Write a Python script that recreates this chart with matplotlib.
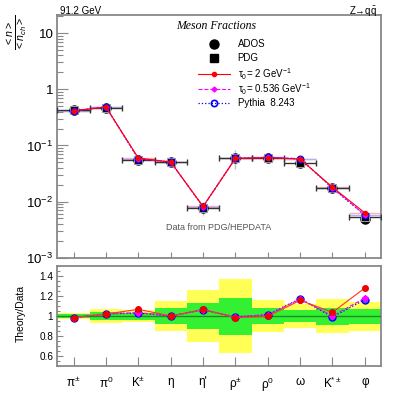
import matplotlib
matplotlib.use('Agg')
import matplotlib.pyplot as plt
import numpy as np
from matplotlib.ticker import FixedLocator, MultipleLocator, NullFormatter, LogLocator

plt.rcParams['font.family'] = ['Liberation Sans', 'DejaVu Sans']
plt.rcParams['mathtext.fontset'] = 'custom'
plt.rcParams['mathtext.rm'] = 'Liberation Sans'
plt.rcParams['mathtext.it'] = 'Liberation Sans:italic'
plt.rcParams['mathtext.bf'] = 'Liberation Sans:bold'

# ---------------- data ----------------
categories = ['π$^{\\pm}$', 'π$^{0}$', 'K$^{\\pm}$', 'η', "η'", 'ρ$^{\\pm}$',
              'ρ$^{0}$', 'ω', 'K$^{*\\pm}$', 'φ']
pdg = [0.422, 0.472, 0.0558, 0.0506, 0.0077, 0.0596, 0.0606, 0.0494, 0.0174, 0.0054]
ados = [0.422, 0.472, 0.0558, 0.0506, 0.0077, 0.0596, 0.0606, 0.0494, 0.0174, 0.0049]
tau2_top = [0.415, 0.480, 0.0595, 0.0506, 0.0082, 0.0585, 0.0604, 0.0572, 0.0180, 0.0063]
tau0536_top = [0.416, 0.481, 0.0577, 0.0506, 0.0081, 0.0590, 0.0612, 0.0580, 0.0175, 0.0058]
pythia_top = [0.416, 0.481, 0.0573, 0.0506, 0.0081, 0.0590, 0.0612, 0.0578, 0.0173, 0.0057]

tau2_ratio = [0.984, 1.020, 1.067, 1.000, 1.066, 0.984, 0.997, 1.157, 1.037, 1.280]
tau0536_ratio = [0.985, 1.020, 1.035, 1.000, 1.062, 0.990, 1.012, 1.170, 1.000, 1.180]
pythia_ratio = [0.985, 1.020, 1.030, 1.000, 1.062, 0.990, 1.014, 1.173, 0.990, 1.164]

green_half = [0.020, 0.037, 0.035, 0.080, 0.133, 0.185, 0.080, 0.060, 0.085, 0.075]
yellow_half = [0.030, 0.070, 0.060, 0.150, 0.260, 0.370, 0.160, 0.120, 0.170, 0.145]

top_ticklabels = ['10$^{-3}$', '10$^{-2}$', '10$^{-1}$', '1', '10']
top_tickvals = [1e-3, 1e-2, 1e-1, 1, 10]
ratio_tickvals = [0.6, 0.8, 1.0, 1.2, 1.4]
ratio_ticklabels = ['0.6', '0.8', '1', '1.2', '1.4']

# ---------------- figure ----------------
x = np.arange(len(categories)) + 0.5
pdg_a = np.array(pdg)
yel = np.array(yellow_half)
grn = np.array(green_half)

RED = '#ff0000'
MAG = '#ff00ff'
BLUE = '#0000ff'
FRAME = '#888888'

fig = plt.figure(figsize=(3.99, 3.99), dpi=100)
ax = fig.add_axes([0.1441, 0.3541, 0.8108, 0.6083])
ax2 = fig.add_axes([0.1441, 0.0827, 0.8108, 0.2506])

for a in (ax, ax2):
    for s in a.spines.values():
        s.set_color(FRAME)
        s.set_linewidth(1.3)
    a.set_xlim(0, len(categories))

# ---- top panel ----
ax.set_yscale('log')
ax.set_ylim(1e-3, 21)

# faint model horizontal bars
ax.errorbar(x, tau2_top, xerr=0.5, fmt='none', ecolor='#ffb0b0', elinewidth=1.0, zorder=1)
ax.errorbar(x, pythia_top, xerr=0.5, fmt='none', ecolor='#b0b0ff', elinewidth=1.0, ls=':', zorder=1)

# data error bars
ax.errorbar(x, pdg, yerr=pdg_a * yel, fmt='none', ecolor='#c0c0c0', elinewidth=1.0, zorder=2)
ax.errorbar(x, pdg, xerr=0.5, fmt='none', ecolor='#333333', elinewidth=1.0,
            capsize=2.2, capthick=1.0, zorder=3)
ax.plot(x, ados, 'o', color='black', ms=6.5, ls='none', zorder=4)
ax.plot(x, pdg, 's', mfc='black', mec='#9a9a9a', mew=0.8, ms=6.2, ls='none', zorder=5)

ax.plot(x, pythia_top, ls=':', color=BLUE, lw=0.9, marker='o', mfc='none', mec=BLUE,
        mew=1.2, ms=4.5, zorder=6)
ax.plot(x, tau0536_top, ls='--', color=MAG, lw=0.8, marker='D', ms=2.5, mfc=MAG, mec=MAG, zorder=7)
ax.plot(x, tau2_top, ls='-', color=RED, lw=0.8, marker='o', ms=3, mfc=RED, mec=RED, zorder=8)

ax.yaxis.set_major_locator(FixedLocator(top_tickvals))
ax.set_yticklabels(top_ticklabels)
ax.yaxis.set_minor_locator(LogLocator(base=10, subs=np.arange(2, 10)))
ax.yaxis.set_minor_formatter(NullFormatter())
ax.set_xticks(x)
ax.set_xticklabels([])
ax.tick_params(axis='y', which='major', direction='in', length=8, width=0.8, color=FRAME,
               labelsize=9.5, pad=3, left=True, right=False)
ax.tick_params(axis='y', which='minor', direction='in', length=4.3, width=0.8, color=FRAME,
               left=True, right=False)
ax.tick_params(axis='x', which='major', direction='in', length=4.3, width=0.8, color=FRAME,
               top=False, bottom=True)
ax.tick_params(axis='x', which='minor', bottom=False, top=False)

# texts
ax.text(0.49, 0.955, 'Meson Fractions', transform=ax.transAxes, ha='center', va='center',
        fontfamily='Liberation Serif', fontstyle='italic', fontsize=8.5)
ax.text(0.335, 0.125, 'Data from PDG/HEPDATA', transform=ax.transAxes, ha='left', va='center',
        fontsize=6.5, color='#555555')
fig.text(60 / 399, 1 - 14 / 399, '91.2 GeV', ha='left', va='baseline', fontsize=7)
fig.text(377 / 399, 1 - 14 / 399, 'Z→q$\\bar{\\mathrm{q}}$', ha='right',
         va='baseline', fontsize=7)
fig.text(17 / 399, 1 - 14 / 399, r'$\frac{<n>}{<n_{ch}>}$', rotation=90, ha='center',
         va='top', fontsize=11)

# legend (manual)
def yfrac(ypx):
    return 1 - (ypx - 15) / 242.7

def xfrac(xpx):
    return (xpx - 57.5) / 323.5

leg = [
    ('ADOS', dict(marker='o', color='black', ms=6.5, ls='none')),
    ('PDG', dict(marker='s', color='black', ms=6.2, ls='none')),
    ('τ$_{0}$= 2 GeV$^{-1}$', dict(marker='o', color=RED, ms=3, ls='-', lw=0.8)),
    ('τ$_{0}$= 0.536 GeV$^{-1}$', dict(marker='D', color=MAG, ms=2.5, ls='--', lw=0.8)),
    ('Pythia  8.243', dict(marker='o', color=BLUE, mfc='none', mew=1.2, ms=4.5, ls=':', lw=0.9)),
]
rows = [44, 58.3, 73.8, 88.8, 103.3]
for (lab, st), ry in zip(leg, rows):
    yy = yfrac(ry)
    if st.get('ls', 'none') != 'none':
        ax.plot([xfrac(198), xfrac(230)], [yy, yy], transform=ax.transAxes, clip_on=False,
                color=st['color'], ls=st['ls'], lw=st['lw'], zorder=9)
    mk = dict(st)
    mk.pop('ls', None)
    mk.pop('lw', None)
    ax.plot([xfrac(214)], [yy], transform=ax.transAxes, ls='none', clip_on=False, zorder=10, **mk)
    ax.text(xfrac(237.5), yy, lab, transform=ax.transAxes, ha='left', va='center', fontsize=7.0)

# ---- ratio panel ----
ax2.set_ylim(0.5, 1.5)
ax2.bar(x, 2 * yel, bottom=1 - yel, width=1.0, color='#ffff55', linewidth=0, zorder=1)
ax2.bar(x, 2 * grn, bottom=1 - grn, width=1.0, color='#33f033', linewidth=0, zorder=2)
ax2.axhline(1.0, color='#1f8c1f', lw=1.0, zorder=3)

ax2.plot(x, pythia_ratio, ls=':', color=BLUE, lw=0.9, marker='o', mfc='#5050ff', mec=BLUE,
         mew=1.0, ms=5, zorder=4)
ax2.plot(x, tau0536_ratio, ls='--', color=MAG, lw=0.8, marker='D', ms=3, mfc=MAG, mec=MAG, zorder=5)
ax2.plot(x, tau2_ratio, ls='-', color='#ff3030', lw=0.8, marker='o', ms=4, mfc='#ee0000',
         mec='#ee0000', zorder=6)

ax2.yaxis.set_major_locator(FixedLocator(ratio_tickvals))
ax2.set_yticklabels(ratio_ticklabels)
ax2.yaxis.set_minor_locator(MultipleLocator(0.05))
ax2.set_xticks(x)
ax2.set_xticklabels(categories, fontsize=8.5)
ax2.tick_params(axis='y', which='major', direction='in', length=4.3, width=0.8, color=FRAME,
                labelsize=7.2, pad=3, left=True, right=False)
ax2.tick_params(axis='y', which='minor', direction='in', length=2.2, width=0.8, color=FRAME,
                left=True, right=False)
ax2.tick_params(axis='x', which='major', direction='in', length=6.5, width=0.8, color=FRAME,
                top=False, bottom=True, pad=7)
ax2.tick_params(axis='x', which='minor', bottom=False, top=False)
fig.text(21 / 399, 1 - 313 / 399, 'Theory/Data', rotation=90, ha='center', va='center', fontsize=7.5)

fig.savefig('out.png', dpi=100)
